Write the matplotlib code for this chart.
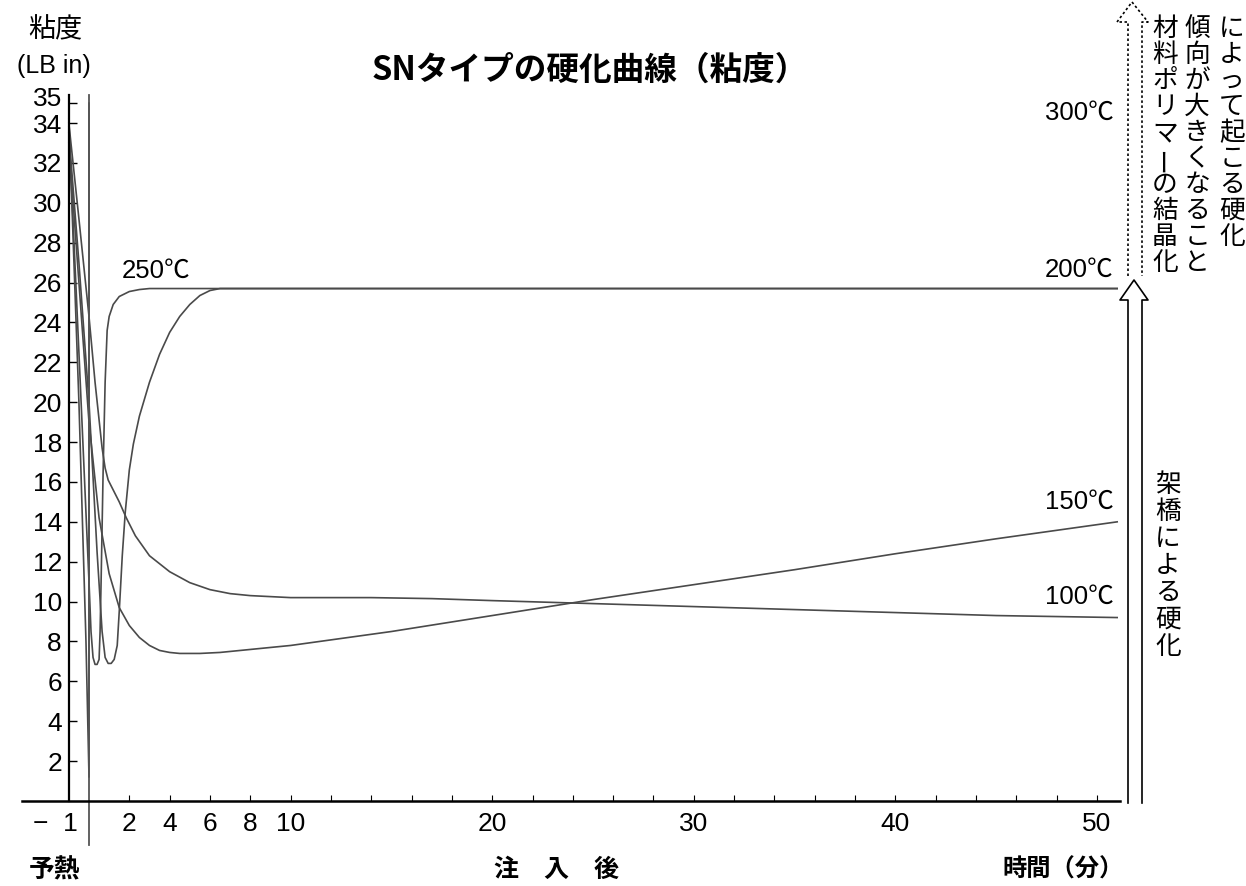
import matplotlib
matplotlib.use("Agg")
import matplotlib.pyplot as plt

plt.rcParams['font.family'] = ['Liberation Sans', 'Noto Sans CJK JP', 'DejaVu Sans']
JP = ['Noto Sans CJK JP', 'DejaVu Sans']

W, H = 1246, 886
X0, XS = 89, 20.16   # pixel column of t=0 and pixels per minute
Y0, YS = 801, 19.94  # pixel row of zero viscosity and pixels per unit


def px(p):
    return (p - X0) / XS


def py(p):
    return (Y0 - p) / YS


# 粘度の推移 (時間[分], 粘度[LB in])
t300 = [-1, -0.5, -0.15, 0, 0]
v300 = [34.2, 20, 8, 1.2, 35]

t250 = [-1, -0.5, 0, 0.1, 0.2, 0.3, 0.4, 0.5, 0.55, 0.6, 0.7, 0.8, 0.9, 1.0,
        1.2, 1.5, 2.0, 2.5, 3.0, 3.5, 5, 51]
v250 = [33.8, 22.5, 11, 8.5, 7.2, 6.85, 6.85, 7.1, 8.5, 11, 16.5, 21, 23.6,
        24.3, 24.9, 25.3, 25.55, 25.65, 25.7, 25.7, 25.7, 25.7]

t200 = [-1, -0.5, 0, 0.4, 0.65, 0.8, 0.95, 1.1, 1.25, 1.4, 1.5, 1.65, 1.8,
        2.0, 2.2, 2.5, 3.0, 3.5, 4.0, 4.5, 5.0, 5.5, 6.0, 6.5, 7, 51]
v200 = [33.5, 27, 20, 12.5, 8.5, 7.2, 6.9, 6.9, 7.1, 7.8, 9.5, 12.3, 14.5,
        16.6, 17.9, 19.3, 21.0, 22.4, 23.5, 24.3, 24.9, 25.35, 25.6, 25.7,
        25.7, 25.7]

t150 = [-1, -0.5, 0, 0.5, 1.0, 1.5, 2.0, 2.5, 3.0, 3.5, 4.0, 4.5, 5.5, 6.5,
        8, 10, 15, 20, 25, 30, 35, 40, 45, 51]
v150 = [33.0, 26, 19, 14.2, 11.4, 9.7, 8.8, 8.2, 7.8, 7.55, 7.45, 7.4, 7.4,
        7.45, 7.6, 7.8, 8.5, 9.3, 10.1, 10.85, 11.6, 12.4, 13.15, 14.0]

t100 = [-1, -0.5, 0, 0.3, 0.65, 0.8, 0.95, 1.2, 1.5, 1.85, 2.3, 3.0, 4.0, 5,
        6, 7, 8, 10, 12, 14, 17, 20, 25, 30, 35, 40, 45, 51]
v100 = [34, 29.2, 24.3, 21, 17.7, 16.7, 16.1, 15.6, 15.0, 14.2, 13.3, 12.3,
        11.5, 10.95, 10.6, 10.4, 10.3, 10.2, 10.2, 10.2, 10.15, 10.05, 9.9,
        9.75, 9.6, 9.45, 9.3, 9.2]

y_ticks = [2, 4, 6, 8, 10, 12, 14, 16, 18, 20, 22, 24, 26, 28, 30, 32, 34, 35]
x_ticks = list(range(2, 51, 2))
x_labeled = [2, 4, 6, 8, 10, 20, 30, 40, 50]

fig = plt.figure(figsize=(W / 100, H / 100), dpi=100)
ax = fig.add_axes([0, 0, 1, 1])
ax.set_xlim(px(0), px(W))
ax.set_ylim(py(H), py(0))

line_kw = dict(color='#4a4a4a', lw=1.2, clip_on=False)
ax.plot(t300, v300, **line_kw)
ax.plot(t250, v250, **line_kw)
ax.plot(t200, v200, **line_kw)
ax.plot(t150, v150, **line_kw)
ax.plot(t100, v100, **line_kw)

# 予熱と注入後の境目
ax.plot([0, 0], [py(845), 35.4], color='#555555', lw=1.3, clip_on=False)

ax.spines[['top', 'right']].set_visible(False)
ax.spines['left'].set_position(('data', -1))
ax.spines['left'].set_bounds(0, 35.4)
ax.spines['left'].set_linewidth(1.6)
ax.spines['bottom'].set_position(('data', 0))
ax.spines['bottom'].set_bounds(px(22), px(1120))
ax.spines['bottom'].set_linewidth(1.8)

# 35 は目盛りが詰まるので少し上にずらして書く
ax.set_yticks(y_ticks, [str(v) if v != 35 else '' for v in y_ticks])
ax.set_xticks(x_ticks, [str(v) if v in x_labeled else '' for v in x_ticks])
ax.tick_params(axis='y', direction='in', length=6, width=1, pad=5, labelsize=19)
ax.tick_params(axis='x', direction='in', length=4, width=0.8, pad=8, labelsize=19)
ax.text(px(62), py(99), '35', ha='right', va='center', fontsize=19)
ax.text(px(78), py(824), '−  1', ha='right', va='center', fontsize=19)

# 温度ラベル
ax.text(px(156), py(271), '250℃', ha='center', va='center', fontsize=18.5)
for label, row in [('300℃', 113), ('200℃', 270), ('150℃', 502), ('100℃', 597)]:
    ax.text(px(1114), py(row), label, ha='right', va='center', fontsize=18.5)

ax.text(px(590), py(70), 'SNタイプの硬化曲線（粘度）', ha='center', va='center',
        fontsize=23.5, fontweight='bold', family=JP)
ax.text(px(55), py(30), '粘度', ha='center', va='center', fontsize=19.5, family=JP)
ax.text(px(54), py(66), '(LB in)', ha='center', va='center', fontsize=18)

ax.text(px(55), py(870), '予熱', ha='center', va='center', fontsize=18.5,
        fontweight='bold', family=JP)
ax.text(px(557), py(870), '注　入　後', ha='center', va='center', fontsize=18,
        fontweight='bold', family=JP)
ax.text(px(1063), py(870), '時間（分）', ha='center', va='center', fontsize=17.5,
        fontweight='bold', family=JP)

# 右側の矢印（実線: 架橋, 点線: 結晶化）
arrow_kw = dict(color='black', lw=1.2, clip_on=False)
sl, sr, sc = 1128, 1142, 1134
ax.plot([px(v) for v in [sl, sl, 1120, sc, 1148, sr, sr]],
        [py(v) for v in [803, 300, 300, 280, 300, 300, 803]], **arrow_kw)
ax.plot([px(v) for v in [sl, sl, 1117, 1132, 1148, sr, sr]],
        [py(v) for v in [276, 22, 22, 2, 22, 22, 276]], ls=(0, (1.5, 1.5)),
        **arrow_kw)


def vtext(xc, ytop, s, step=26, size=18.5):
    for i, ch in enumerate(s):
        rot = 90 if ch == 'ー' else 0  # 縦書きの長音符は縦向き
        ax.text(px(xc), py(ytop + i * step), ch, ha='center', va='center',
                fontsize=size, rotation=rot, family=JP)


vtext(1165, 29, '材料ポリマーの結晶化')
vtext(1197, 29, '傾向が大きくなること')
vtext(1232, 29, 'によって起こる硬化')
vtext(1168, 485, '架橋による硬化', step=27)

fig.savefig('out.png', dpi=100)
